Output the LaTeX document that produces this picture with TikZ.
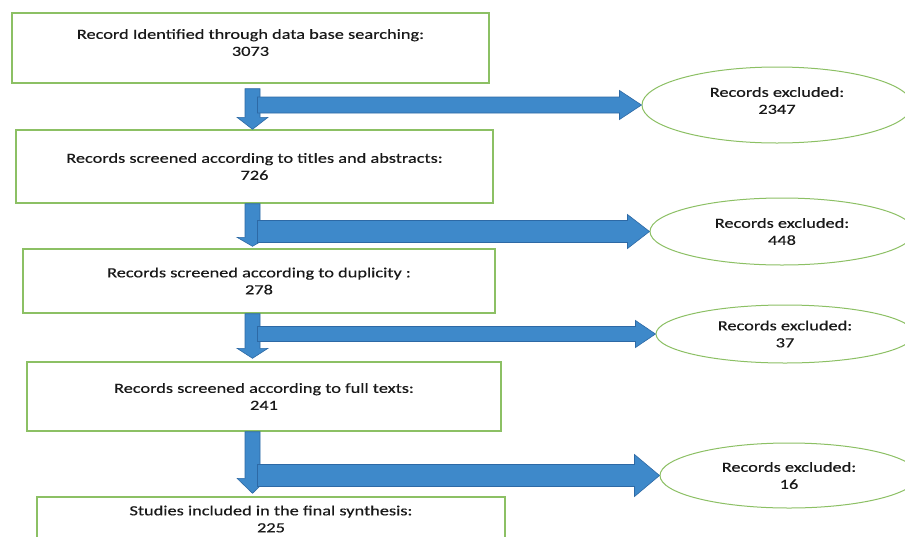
\documentclass[tikz,border=0pt]{standalone}
\usepackage{fontspec}
\setmainfont{Carlito}[FakeStretch=1.31,FakeBold=0.4]
\usetikzlibrary{shapes.geometric,calc}
\definecolor{boxgreen}{RGB}{140,192,100}
\definecolor{arrfill}{RGB}{62,137,202}
\definecolor{arrline}{RGB}{45,105,165}
\definecolor{txtcol}{RGB}{25,25,25}
\tikzset{
  boxnode/.style={draw=boxgreen, line width=1.4pt, rectangle, inner sep=0pt,
    align=center, font=\fontsize{14}{17}\selectfont, text=txtcol},
  exclnode/.style={draw=boxgreen, line width=1.0pt, ellipse, inner sep=0pt,
    align=center, font=\fontsize{14}{17}\selectfont, text=txtcol},
  blk/.style={fill=arrfill, draw=arrline, line width=0.6pt, line join=miter}
}
% vertical block arrow: #1 start (top), #2 tip (bottom), #3 head length
\newcommand\myvarrow[3]{%
  \filldraw[blk] let \p1=(#1), \p2=(#2) in
    (\x1-7.5pt,\y1) -- (\x1-7.5pt,\y2+#3) -- (\x1-15.5pt,\y2+#3) -- (\x2,\y2)
    -- (\x1+15.5pt,\y2+#3) -- (\x1+7.5pt,\y2+#3) -- (\x1+7.5pt,\y1) -- cycle;}
% horizontal block arrow: #1 start, #2 tip, #3 half shaft, #4 half head, #5 head length
\newcommand\myharrow[5]{%
  \filldraw[blk] let \p1=(#1), \p2=(#2) in
    (\x1,\y2+#3) -- (\x2-#5,\y2+#3) -- (\x2-#5,\y2+#4) -- (\x2,\y2)
    -- (\x2-#5,\y2-#4) -- (\x2-#5,\y2-#3) -- (\x1,\y2-#3) -- cycle;}
\begin{document}
\begin{tikzpicture}[x=1pt,y=-1pt]
\useasboundingbox (0,0) rectangle (905,536);
\fill[white] (0,0) rectangle (905,536);

% boxes
\node[boxnode, minimum width=477pt, minimum height=70pt] (b1) at (250.5,48)
  {Record Identified through data base searching:\\3073\\[-6pt]~};
\node[boxnode, minimum width=477pt, minimum height=73pt] (b2) at (254.5,166.5)
  {Records screened according to titles and abstracts:\\726};
\node[boxnode, minimum width=472pt, minimum height=64pt] (b3) at (259,281)
  {Records screened according to duplicity~:\\278};
\node[boxnode, minimum width=474pt, minimum height=69pt] (b4) at (264,396.5)
  {Records screened according to full texts:\\241};
\node[boxnode, minimum width=468pt, minimum height=44pt] (b5) at (271,519)
  {Studies included in the final synthesis:\\225};

% exclusion ellipses
\node[exclnode, minimum width=270pt, minimum height=76pt] (e1) at (777,105)
  {Records excluded:\\2347\\[-8pt]~};
\node[exclnode, minimum width=264pt, minimum height=67pt] (e2) at (782,231.5)
  {Records excluded:\\448};
\node[exclnode, minimum width=258pt, minimum height=58pt] (e3) at (785,334)
  {Records excluded:\\37};
\node[exclnode, minimum width=258pt, minimum height=65pt] (e4) at (789,475.5)
  {Records excluded:\\16};

% spine of the flow
\coordinate (ax) at (252.5,0);

% block arrows
\myvarrow{$(b1.south -| ax)+(0,5)$}{b2.north -| ax}{12pt}
\myharrow{$(ax |- e1.west)+(5,0)$}{e1.west}{8pt}{14.5pt}{22pt}

\myvarrow{b2.south -| ax}{$(b3.north -| ax)+(0,-2)$}{9pt}
\myharrow{$(ax |- e2.west)+(5,0)$}{e2.west}{11pt}{17pt}{22pt}

\myvarrow{b3.south -| ax}{$(b4.north -| ax)+(0,-3)$}{10pt}
\myharrow{$(ax |- e3.west)+(5,0)$}{e3.west}{7.5pt}{13.5pt}{20pt}

\myvarrow{b4.south -| ax}{$(b5.north -| ax)+(0,-3)$}{15pt}
\myharrow{$(ax |- e4.west)+(5,0)$}{e4.west}{11pt}{21pt}{25pt}
\end{tikzpicture}
\end{document}
